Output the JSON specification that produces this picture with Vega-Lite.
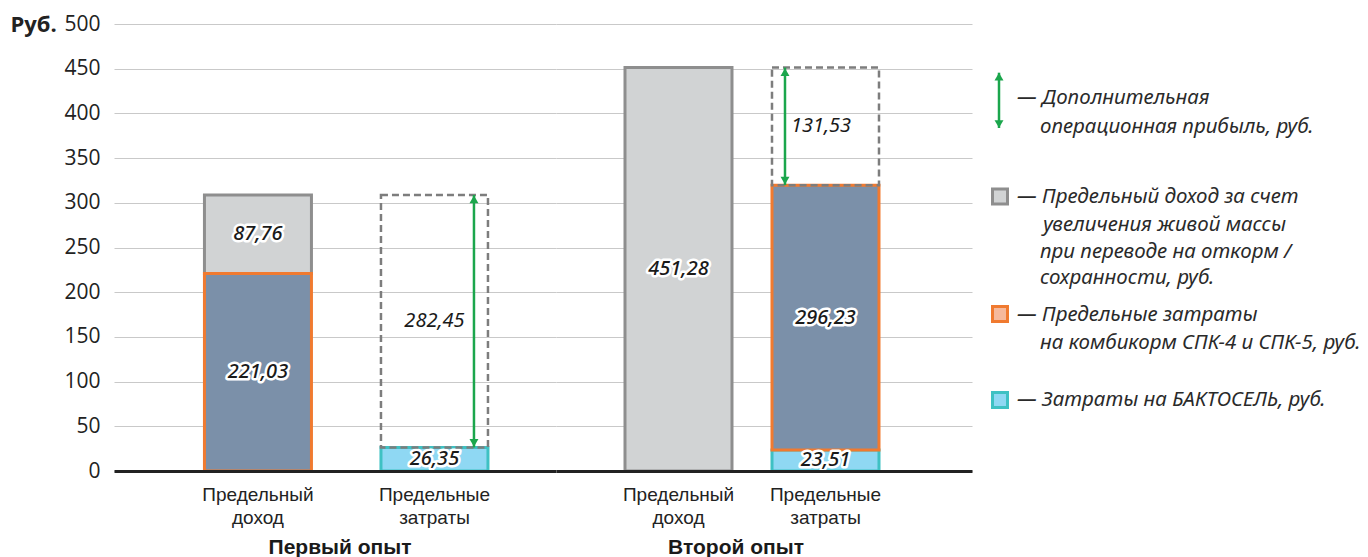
{
  "$schema": "https://vega.github.io/schema/vega-lite/v6.json",
  "background": "white",
  "padding": {"left": 10, "top": 13, "right": 0, "bottom": 0},
  "bounds": "flush",
  "spacing": 0,
  "config": {
    "view": {"stroke": null},
    "locale": {"number": {"decimal": ",", "thousands": "\u00a0", "grouping": [3], "currency": ["", ""]}}
  },
  "resolve": {"scale": {"fill": "independent", "stroke": "independent"}},
  "datasets": {
    "bars": [
      {"grp": "Первый опыт", "type": "Предельный доход", "seg": "inc", "value": 87.76},
      {"grp": "Первый опыт", "type": "Предельный доход", "seg": "feed", "value": 221.03},
      {"grp": "Первый опыт", "type": "Предельные затраты", "seg": "bakt", "value": 26.35},
      {"grp": "Второй опыт", "type": "Предельный доход", "seg": "inc", "value": 451.28},
      {"grp": "Второй опыт", "type": "Предельные затраты", "seg": "bakt", "value": 23.51},
      {"grp": "Второй опыт", "type": "Предельные затраты", "seg": "feed", "value": 296.23}
    ],
    "profit": [
      {"grp": "Первый опыт", "type": "Предельные затраты", "lo": 26.35, "hi": 308.79, "value": 282.45},
      {"grp": "Второй опыт", "type": "Предельные затраты", "lo": 319.74, "hi": 451.28, "value": 131.53}
    ],
    "legText": [
      {"t": "— Дополнительная", "lx": 45, "ly": 74},
      {"t": "операционная прибыль, руб.", "lx": 68, "ly": 102.5},
      {"t": "— Предельный доход за счет", "lx": 45, "ly": 172.5},
      {"t": "увеличения живой массы", "lx": 71, "ly": 201},
      {"t": "при переводе на откорм /", "lx": 68, "ly": 227.5},
      {"t": "сохранности,  руб.", "lx": 68, "ly": 254},
      {"t": "— Предельные затраты", "lx": 45, "ly": 291},
      {"t": "на комбикорм СПК-4 и СПК-5, руб.", "lx": 68, "ly": 318.5},
      {"t": "— Затраты на БАКТОСЕЛЬ, руб.", "lx": 45, "ly": 376}
    ],
    "legBox": [
      {"seg": "inc", "lx": 28, "ly": 172.5},
      {"seg": "feed", "lx": 28, "ly": 290},
      {"seg": "bakt", "lx": 28, "ly": 376}
    ],
    "legArrow": [
      {"lx": 27, "lo": 48.7, "hi": 104}
    ]
  },
  "hconcat": [
    {
      "width": 442,
      "height": 447,
      "title": {"text": "Первый опыт", "orient": "bottom", "anchor": "middle", "frame": "group", "dx": 5, "offset": 10, "font": "Liberation Sans", "fontSize": 21, "fontWeight": "bold", "color": "#1a1a1a"},
      "encoding": {
        "x": {
          "field": "type", "type": "nominal",
          "scale": {"domain": ["Предельный доход", "Предельные затраты"], "paddingInner": 0, "paddingOuter": 0.252, "align": 0.626},
          "axis": {"title": null, "domainColor": "#222222", "domainWidth": 3, "ticks": false, "grid": false, "labelPadding": 14, "labelFont": "Liberation Sans", "labelFontSize": 19, "labelColor": "#222222", "labelAngle": 0, "labelExpr": "split(datum.label, ' ')", "labelLineHeight": 23, "zindex": 1}
        }
      },
      "layer": [
        {
          "data": {"name": "bars"},
          "transform": [
            {"filter": "datum.grp === 'Первый опыт'"},
            {"stack": "value", "groupby": ["type"], "sort": [{"field": "seg", "order": "ascending"}], "as": ["v0", "v1"]},
            {"calculate": "(datum.v0 + datum.v1) / 2", "as": "mid"}
          ],
          "layer": [
            {
              "mark": {"type": "bar", "width": 107, "strokeWidth": 3},
              "encoding": {
                "y": {"field": "v0", "type": "quantitative", "scale": {"domain": [0, 500]},
                  "axis": {"title": "Руб.", "values": [0, 50, 100, 150, 200, 250, 300, 350, 400, 450, 500], "grid": true, "gridColor": "#c9c9c9", "gridWidth": 1, "domain": false, "ticks": false, "labelPadding": 14, "labelFont": "Open Sans", "labelFontSize": 21, "labelColor": "#222222", "titleFont": "Open Sans", "titleFontSize": 22, "titleFontWeight": "bold", "titleColor": "#222222", "titleAngle": 0, "titleAlign": "left", "titleBaseline": "middle", "titleX": -104, "titleY": 0}},
                "y2": {"field": "v1"},
                "fill": {"field": "seg", "type": "nominal", "scale": {"domain": ["inc", "feed", "bakt"], "range": ["#d1d3d4", "#7b90a9", "#8fd8f3"]}, "legend": null},
                "stroke": {"field": "seg", "type": "nominal", "scale": {"domain": ["inc", "feed", "bakt"], "range": ["#8e8e8e", "#f07a30", "#3ec1c3"]}, "legend": null}
              }
            },
            {
              "mark": {"type": "text", "font": "Noto Sans", "fontStyle": "italic", "fontSize": 20, "fontWeight": 500, "fill": "white", "stroke": "white", "strokeWidth": 5, "strokeJoin": "round", "baseline": "middle"},
              "encoding": {
                "y": {"field": "mid", "type": "quantitative"},
                "text": {"field": "value", "type": "quantitative", "format": ".2f"}
              }
            },
            {
              "mark": {"type": "text", "font": "Noto Sans", "fontStyle": "italic", "fontSize": 20, "fontWeight": 500, "fill": "#1a1a1a", "baseline": "middle"},
              "encoding": {
                "y": {"field": "mid", "type": "quantitative"},
                "text": {"field": "value", "type": "quantitative", "format": ".2f"}
              }
            }
          ]
        },
        {
          "data": {"name": "profit"},
          "transform": [
            {"filter": "datum.grp === 'Первый опыт'"},
            {"calculate": "(datum.lo + datum.hi) / 2", "as": "mid"}
          ],
          "layer": [
            {
              "mark": {"type": "bar", "width": 107, "fillOpacity": 0, "stroke": "#7d7d7d", "strokeWidth": 2.5, "strokeDash": [7, 4]},
              "encoding": {"y": {"field": "lo", "type": "quantitative"}, "y2": {"field": "hi"}}
            },
            {
              "mark": {"type": "rule", "color": "#1ba64c", "strokeWidth": 2.5, "xOffset": 39.5},
              "encoding": {"y": {"field": "lo", "type": "quantitative"}, "y2": {"field": "hi"}}
            },
            {
              "mark": {"type": "point", "shape": "triangle-up", "filled": true, "opacity": 1, "color": "#1ba64c", "size": 80, "xOffset": 39.5, "yOffset": 4.5},
              "encoding": {"y": {"field": "hi", "type": "quantitative"}}
            },
            {
              "mark": {"type": "point", "shape": "triangle-down", "filled": true, "opacity": 1, "color": "#1ba64c", "size": 80, "xOffset": 39.5, "yOffset": -4.5},
              "encoding": {"y": {"field": "lo", "type": "quantitative"}}
            },
            {
              "mark": {"type": "text", "font": "Noto Sans", "fontStyle": "italic", "fontSize": 20, "fill": "#1a1a1a", "baseline": "middle"},
              "encoding": {
                "y": {"field": "mid", "type": "quantitative"},
                "text": {"field": "value", "type": "quantitative", "format": ".2f"}
              }
            }
          ]
        }
      ]
    },
    {
      "width": 416,
      "height": 447,
      "title": {"text": "Второй опыт", "orient": "bottom", "anchor": "middle", "frame": "group", "dx": -28, "offset": 10, "font": "Liberation Sans", "fontSize": 21, "fontWeight": "bold", "color": "#1a1a1a"},
      "encoding": {
        "x": {
          "field": "type", "type": "nominal",
          "scale": {"domain": ["Предельный доход", "Предельные затраты"], "paddingInner": 0, "paddingOuter": 0.415, "align": 0.4016},
          "axis": {"title": null, "domainColor": "#222222", "domainWidth": 3, "ticks": false, "grid": false, "labelPadding": 14, "labelFont": "Liberation Sans", "labelFontSize": 19, "labelColor": "#222222", "labelAngle": 0, "labelExpr": "split(datum.label, ' ')", "labelLineHeight": 23, "zindex": 1}
        }
      },
      "layer": [
        {
          "data": {"name": "bars"},
          "transform": [
            {"filter": "datum.grp === 'Второй опыт'"},
            {"stack": "value", "groupby": ["type"], "sort": [{"field": "seg", "order": "ascending"}], "as": ["v0", "v1"]},
            {"calculate": "(datum.v0 + datum.v1) / 2", "as": "mid"}
          ],
          "layer": [
            {
              "mark": {"type": "bar", "width": 107, "strokeWidth": 3},
              "encoding": {
                "y": {"field": "v0", "type": "quantitative", "scale": {"domain": [0, 500]},
                  "axis": {"title": null, "values": [0, 50, 100, 150, 200, 250, 300, 350, 400, 450, 500], "grid": true, "gridColor": "#c9c9c9", "gridWidth": 1, "domain": false, "ticks": false, "labels": false}},
                "y2": {"field": "v1"},
                "fill": {"field": "seg", "type": "nominal", "scale": {"domain": ["inc", "feed", "bakt"], "range": ["#d1d3d4", "#7b90a9", "#8fd8f3"]}, "legend": null},
                "stroke": {"field": "seg", "type": "nominal", "scale": {"domain": ["inc", "feed", "bakt"], "range": ["#8e8e8e", "#f07a30", "#3ec1c3"]}, "legend": null}
              }
            },
            {
              "mark": {"type": "text", "font": "Noto Sans", "fontStyle": "italic", "fontSize": 20, "fontWeight": 500, "fill": "white", "stroke": "white", "strokeWidth": 5, "strokeJoin": "round", "baseline": "middle"},
              "encoding": {
                "y": {"field": "mid", "type": "quantitative"},
                "text": {"field": "value", "type": "quantitative", "format": ".2f"}
              }
            },
            {
              "mark": {"type": "text", "font": "Noto Sans", "fontStyle": "italic", "fontSize": 20, "fontWeight": 500, "fill": "#1a1a1a", "baseline": "middle"},
              "encoding": {
                "y": {"field": "mid", "type": "quantitative"},
                "text": {"field": "value", "type": "quantitative", "format": ".2f"}
              }
            }
          ]
        },
        {
          "data": {"name": "profit"},
          "transform": [
            {"filter": "datum.grp === 'Второй опыт'"},
            {"calculate": "(datum.lo + datum.hi) / 2", "as": "mid"}
          ],
          "layer": [
            {
              "mark": {"type": "bar", "width": 107, "fillOpacity": 0, "stroke": "#7d7d7d", "strokeWidth": 2.5, "strokeDash": [7, 4]},
              "encoding": {"y": {"field": "lo", "type": "quantitative"}, "y2": {"field": "hi"}}
            },
            {
              "mark": {"type": "rule", "color": "#1ba64c", "strokeWidth": 2.5, "xOffset": -40.5},
              "encoding": {"y": {"field": "lo", "type": "quantitative"}, "y2": {"field": "hi"}}
            },
            {
              "mark": {"type": "point", "shape": "triangle-up", "filled": true, "opacity": 1, "color": "#1ba64c", "size": 80, "xOffset": -40.5, "yOffset": 4.5},
              "encoding": {"y": {"field": "hi", "type": "quantitative"}}
            },
            {
              "mark": {"type": "point", "shape": "triangle-down", "filled": true, "opacity": 1, "color": "#1ba64c", "size": 80, "xOffset": -40.5, "yOffset": -4.5},
              "encoding": {"y": {"field": "lo", "type": "quantitative"}}
            },
            {
              "mark": {"type": "text", "font": "Noto Sans", "fontStyle": "italic", "fontSize": 20, "fill": "#1a1a1a", "baseline": "middle", "xOffset": -4.5},
              "encoding": {
                "y": {"field": "mid", "type": "quantitative"},
                "text": {"field": "value", "type": "quantitative", "format": ".2f"}
              }
            }
          ]
        }
      ]
    },
    {
      "width": 393,
      "height": 447,
      "layer": [
        {
          "data": {"name": "legText"},
          "mark": {"type": "text", "align": "left", "baseline": "middle", "font": "Noto Sans", "fontStyle": "italic", "fontSize": 20.5, "fill": "#2a2a2a"},
          "encoding": {
            "x": {"field": "lx", "type": "quantitative", "scale": {"domain": [0, 393], "nice": false}, "axis": null},
            "y": {"field": "ly", "type": "quantitative", "scale": {"domain": [0, 447], "nice": false, "reverse": true}, "axis": null},
            "text": {"field": "t"}
          }
        },
        {
          "data": {"name": "legBox"},
          "mark": {"type": "point", "shape": "square", "filled": true, "opacity": 1, "size": 225, "strokeWidth": 3},
          "encoding": {
            "x": {"field": "lx", "type": "quantitative", "axis": null},
            "y": {"field": "ly", "type": "quantitative", "axis": null},
            "fill": {"field": "seg", "type": "nominal", "scale": {"domain": ["inc", "feed", "bakt"], "range": ["#d1d3d4", "#f6b99c", "#8fd8f3"]}, "legend": null},
            "stroke": {"field": "seg", "type": "nominal", "scale": {"domain": ["inc", "feed", "bakt"], "range": ["#8e8e8e", "#f07a30", "#3ec1c3"]}, "legend": null}
          }
        },
        {
          "data": {"name": "legArrow"},
          "layer": [
            {
              "mark": {"type": "rule", "color": "#1ba64c", "strokeWidth": 2.5},
              "encoding": {"x": {"field": "lx", "type": "quantitative", "axis": null}, "y": {"field": "lo", "type": "quantitative", "axis": null}, "y2": {"field": "hi"}}
            },
            {
              "mark": {"type": "point", "shape": "triangle-up", "filled": true, "opacity": 1, "color": "#1ba64c", "size": 80, "yOffset": 4},
              "encoding": {"x": {"field": "lx", "type": "quantitative", "axis": null}, "y": {"field": "lo", "type": "quantitative", "axis": null}}
            },
            {
              "mark": {"type": "point", "shape": "triangle-down", "filled": true, "opacity": 1, "color": "#1ba64c", "size": 80, "yOffset": -4},
              "encoding": {"x": {"field": "lx", "type": "quantitative", "axis": null}, "y": {"field": "hi", "type": "quantitative", "axis": null}}
            }
          ]
        }
      ]
    }
  ]
}
